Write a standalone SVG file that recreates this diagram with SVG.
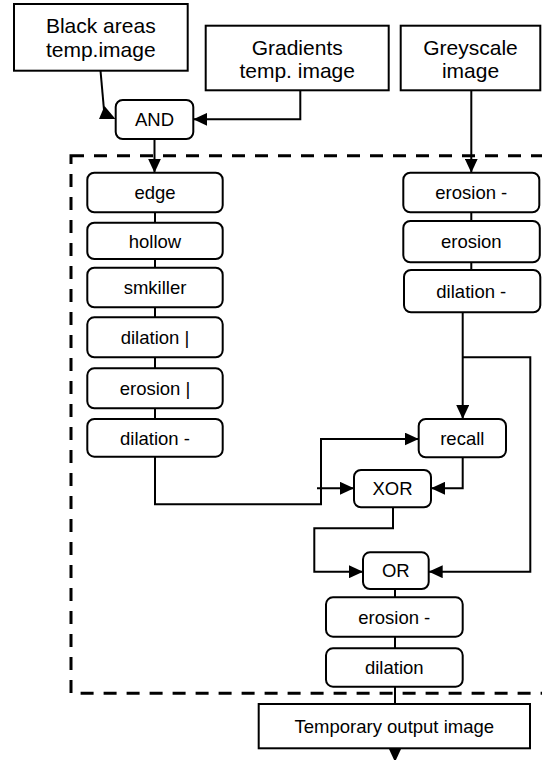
<svg xmlns="http://www.w3.org/2000/svg" width="542" height="760" viewBox="0 0 542 760">
  <style>
    .box { fill: #fff; stroke: #000; stroke-width: 2; }
    .op { fill: #fff; stroke: #000; stroke-width: 2; }
    .lbl { font-family: "Liberation Sans", Arial, sans-serif; font-size: 18.5px; text-anchor: middle; fill: #000; }
    .in { font-family: "Liberation Sans", Arial, sans-serif; font-size: 21px; text-anchor: middle; fill: #000; }
    .wire { fill: none; stroke: #000; stroke-width: 2; }
    .arrow { marker-end: url(#head); }
    .frame { fill: none; stroke: #000; stroke-width: 3; stroke-dasharray: 13 10; }
  </style>
  <defs>
    <marker id="head" viewBox="0 0 14 13" refX="14" refY="6.5" markerWidth="14" markerHeight="13" markerUnits="userSpaceOnUse" orient="auto">
      <path d="M0,0 L14,6.5 L0,13 Z" fill="#000"/>
    </marker>
  </defs>
  <rect width="542" height="760" fill="#fff"/>

  <!-- processing block boundary -->
  <rect class="frame" x="71" y="155.7" width="490" height="537.6"/>

  <!-- connectors -->
  <g id="connectors">
    <path class="wire" d="M100.5,70.7 L104,110"/>
    <polygon points="99,119 115.5,119 104.5,106" fill="#000"/>
    <path class="wire arrow" d="M300.3,90.3 V119.3 H193.3"/>
    <path class="wire arrow" d="M154.5,139 V172.7"/>
    <path class="wire arrow" d="M471.3,90.3 V172.7"/>

    <path class="wire" d="M155,212.3 V222.7 M155,259 V267.7 M155,307.3 V317.3 M155,357.3 V368.3 M155,408.3 V419"/>
    <path class="wire" d="M471.3,212.3 V221 M471.3,262.3 V270"/>

    <path class="wire arrow" d="M462.7,312.3 V419"/>
    <path class="wire arrow" d="M462.7,357.3 H530.3 V571.7 H428.7"/>
    <path class="wire arrow" d="M155,456.7 V504.3 H321 V439 H418.7"/>
    <path class="wire arrow" d="M317,488.3 H354"/>
    <path class="wire arrow" d="M462.7,457.3 V488.3 H431"/>
    <path class="wire arrow" d="M393,507.3 V528.3 H314.3 V571.7 H363"/>

    <path class="wire" d="M395,589 V597.3 M395,636.7 V648.3 M395,686.7 V704"/>
    <path class="wire arrow" d="M395,748.3 V762"/>
  </g>

  <!-- source images -->
  <g id="black-areas">
    <rect class="box" x="14" y="4" width="173.7" height="66.7"/>
    <text class="in" x="100.8" y="33.3">Black areas</text>
    <text class="in" x="100.8" y="56.5">temp.image</text>
  </g>
  <g id="gradients">
    <rect class="box" x="205.7" y="25.7" width="183" height="64.6"/>
    <text class="in" x="297.2" y="55">Gradients</text>
    <text class="in" x="297.2" y="78">temp. image</text>
  </g>
  <g id="greyscale">
    <rect class="box" x="400.7" y="25.7" width="139.6" height="64.6"/>
    <text class="in" x="470.5" y="55">Greyscale</text>
    <text class="in" x="470.5" y="78">image</text>
  </g>

  <g id="and">
    <rect class="op" x="115.7" y="100" width="77.6" height="39" rx="7"/>
    <text class="lbl" x="154.5" y="126">AND</text>
  </g>

  <!-- left chain -->
  <g id="edge">
    <rect class="op" x="87.3" y="172.7" width="135.4" height="39.6" rx="7"/>
    <text class="lbl" x="155" y="199">edge</text>
  </g>
  <g id="hollow">
    <rect class="op" x="87.3" y="222.7" width="135.4" height="36.3" rx="7"/>
    <text class="lbl" x="155" y="247.5">hollow</text>
  </g>
  <g id="smkiller">
    <rect class="op" x="87.3" y="267.7" width="135.4" height="39.6" rx="7"/>
    <text class="lbl" x="155" y="294">smkiller</text>
  </g>
  <g id="dilation-v">
    <rect class="op" x="87.3" y="317.3" width="135.4" height="40" rx="7"/>
    <text class="lbl" x="155" y="344">dilation |</text>
  </g>
  <g id="erosion-v">
    <rect class="op" x="87.3" y="368.3" width="135.4" height="40" rx="7"/>
    <text class="lbl" x="155" y="395">erosion |</text>
  </g>
  <g id="dilation-h-left">
    <rect class="op" x="87.3" y="419" width="135.4" height="37.7" rx="7"/>
    <text class="lbl" x="155" y="444.5">dilation -</text>
  </g>

  <!-- right chain -->
  <g id="erosion-h-right">
    <rect class="op" x="403.3" y="172.7" width="136" height="39.6" rx="7"/>
    <text class="lbl" x="471.3" y="199">erosion -</text>
  </g>
  <g id="erosion-right">
    <rect class="op" x="403.3" y="221" width="136.5" height="41.3" rx="7"/>
    <text class="lbl" x="471.3" y="248">erosion</text>
  </g>
  <g id="dilation-h-right">
    <rect class="op" x="404" y="270" width="136.3" height="42.3" rx="7"/>
    <text class="lbl" x="471.3" y="297.5">dilation -</text>
  </g>

  <g id="recall">
    <rect class="op" x="418.7" y="419" width="87.3" height="38.3" rx="7"/>
    <text class="lbl" x="462.3" y="444.7">recall</text>
  </g>
  <g id="xor">
    <rect class="op" x="354" y="470" width="77" height="37.3" rx="7"/>
    <text class="lbl" x="392.5" y="495.3">XOR</text>
  </g>
  <g id="or">
    <rect class="op" x="363" y="552.3" width="65.7" height="36.7" rx="7"/>
    <text class="lbl" x="395.8" y="577.3">OR</text>
  </g>
  <g id="erosion-h-out">
    <rect class="op" x="326" y="597.3" width="136.7" height="39.4" rx="7"/>
    <text class="lbl" x="394.3" y="623.5">erosion -</text>
  </g>
  <g id="dilation-out">
    <rect class="op" x="326" y="648.3" width="136.7" height="38.4" rx="7"/>
    <text class="lbl" x="394.3" y="674">dilation</text>
  </g>

  <g id="output">
    <rect class="box" x="258.7" y="704" width="271.3" height="44.3"/>
    <text class="lbl" x="394.3" y="732.5">Temporary output image</text>
  </g>
</svg>
